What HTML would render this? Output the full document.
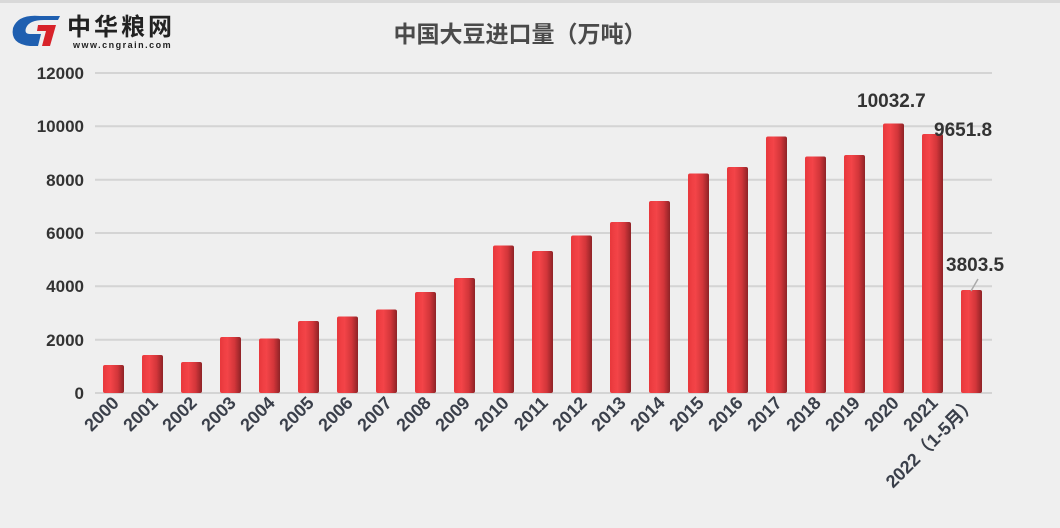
<!DOCTYPE html>
<html><head><meta charset="utf-8"><style>
body{margin:0;width:1060px;height:528px;background:#efefef;overflow:hidden}
svg{display:block}
</style></head><body>
<svg width="1060" height="528" viewBox="0 0 1060 528" xmlns="http://www.w3.org/2000/svg">
<defs>
<linearGradient id="bg" x1="0" x2="1" y1="0" y2="0">
<stop offset="0" stop-color="#e8383c"/><stop offset="0.35" stop-color="#f44448"/><stop offset="0.7" stop-color="#d2353a"/><stop offset="1" stop-color="#8e2326"/>
</linearGradient>
</defs>
<rect x="0" y="0" width="1060" height="3" fill="#d9d9d9"/>
<g>
<path d="M40 16 Q18 14 13 28 Q10 44 30 46 L38 46 L41 34 L30 34 Q24 34 26 28 Q29 20 44 20 L58 20 L60 16 Z" fill="#1f5fb0"/>
<path d="M38 25 L56 25 L50 46 L42 46 L46 31 L37 31 Z" fill="#d8232a"/>
<text x="67" y="35" font-family="Liberation Sans,'Noto Sans CJK SC',sans-serif" font-size="24" font-weight="bold" fill="#222" letter-spacing="3">中华粮网</text>
<text x="73" y="48" font-family="Liberation Sans,sans-serif" font-size="9" font-weight="bold" fill="#222" letter-spacing="1.5">www.cngrain.com</text>
</g>
<text x="520" y="42" text-anchor="middle" font-family="Liberation Sans,'Noto Sans CJK SC',sans-serif" font-size="23" font-weight="bold" fill="#4a4a4a">中国大豆进口量（万吨）</text>
<g stroke="#d4d4d4" stroke-width="2">
<line x1="95" x2="992" y1="73" y2="73"/><line x1="95" x2="992" y1="126.3" y2="126.3"/>
<line x1="95" x2="992" y1="179.7" y2="179.7"/><line x1="95" x2="992" y1="233" y2="233"/>
<line x1="95" x2="992" y1="286.3" y2="286.3"/><line x1="95" x2="992" y1="339.7" y2="339.7"/>
<line x1="95" x2="992" y1="393" y2="393"/>
</g>
<g font-family="Liberation Sans,sans-serif" font-size="17" font-weight="bold" fill="#333" text-anchor="end">
<text x="84" y="79">12000</text><text x="84" y="132">10000</text><text x="84" y="186">8000</text>
<text x="84" y="239">6000</text><text x="84" y="292">4000</text><text x="84" y="346">2000</text><text x="84" y="399">0</text>
</g>
<g fill="url(#bg)">
<rect x="103" y="365" width="21" height="28" rx="2"/>
<rect x="142" y="355" width="21" height="38" rx="2"/>
<rect x="181" y="362" width="21" height="31" rx="2"/>
<rect x="220" y="337" width="21" height="56" rx="2"/>
<rect x="259" y="338.5" width="21" height="54.5" rx="2"/>
<rect x="298" y="321" width="21" height="72" rx="2"/>
<rect x="337" y="316.5" width="21" height="76.5" rx="2"/>
<rect x="376" y="309.5" width="21" height="83.5" rx="2"/>
<rect x="415" y="292" width="21" height="101" rx="2"/>
<rect x="454" y="278" width="21" height="115" rx="2"/>
<rect x="493" y="245.5" width="21" height="147.5" rx="2"/>
<rect x="532" y="251" width="21" height="142" rx="2"/>
<rect x="571" y="235.5" width="21" height="157.5" rx="2"/>
<rect x="610" y="222" width="21" height="171" rx="2"/>
<rect x="649" y="201" width="21" height="192" rx="2"/>
<rect x="688" y="173.5" width="21" height="219.5" rx="2"/>
<rect x="727" y="167" width="21" height="226" rx="2"/>
<rect x="766" y="136.5" width="21" height="256.5" rx="2"/>
<rect x="805" y="156.5" width="21" height="236.5" rx="2"/>
<rect x="844" y="155" width="21" height="238" rx="2"/>
<rect x="883" y="123.5" width="21" height="269.5" rx="2"/>
<rect x="922" y="134" width="21" height="259" rx="2"/>
<rect x="961" y="290" width="21" height="103" rx="2"/>
</g>
<g font-family="Liberation Sans,'Noto Sans CJK SC',sans-serif" font-size="18" font-weight="bold" fill="#3a3f4a" text-anchor="end">
<text transform="translate(120,404) rotate(-45)">2000</text>
<text transform="translate(159,404) rotate(-45)">2001</text>
<text transform="translate(198,404) rotate(-45)">2002</text>
<text transform="translate(237,404) rotate(-45)">2003</text>
<text transform="translate(276,404) rotate(-45)">2004</text>
<text transform="translate(315,404) rotate(-45)">2005</text>
<text transform="translate(354,404) rotate(-45)">2006</text>
<text transform="translate(393,404) rotate(-45)">2007</text>
<text transform="translate(432,404) rotate(-45)">2008</text>
<text transform="translate(471,404) rotate(-45)">2009</text>
<text transform="translate(510,404) rotate(-45)">2010</text>
<text transform="translate(549,404) rotate(-45)">2011</text>
<text transform="translate(588,404) rotate(-45)">2012</text>
<text transform="translate(627,404) rotate(-45)">2013</text>
<text transform="translate(666,404) rotate(-45)">2014</text>
<text transform="translate(705,404) rotate(-45)">2015</text>
<text transform="translate(744,404) rotate(-45)">2016</text>
<text transform="translate(783,404) rotate(-45)">2017</text>
<text transform="translate(822,404) rotate(-45)">2018</text>
<text transform="translate(861,404) rotate(-45)">2019</text>
<text transform="translate(900,404) rotate(-45)">2020</text>
<text transform="translate(939,404) rotate(-45)">2021</text>
<text transform="translate(978,404) rotate(-45)">2022（1-5月）</text>
</g>
<g font-family="Liberation Sans,sans-serif" font-size="19" font-weight="bold" fill="#333">
<text x="857" y="107">10032.7</text><text x="934" y="136">9651.8</text><text x="946" y="271">3803.5</text>
</g>
<line x1="971" y1="291" x2="978" y2="279" stroke="#aaa" stroke-width="1.5"/>
</svg>
</body></html>
